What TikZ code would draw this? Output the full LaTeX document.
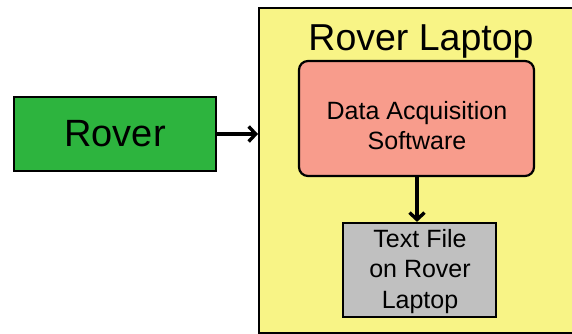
\documentclass[tikz,border=0pt]{standalone}
\usepackage{fontspec}
\setmainfont{Liberation Sans}
\usetikzlibrary{arrows.meta}
\definecolor{laptopyellow}{RGB}{248,244,134}
\definecolor{rovergreen}{RGB}{45,180,62}
\definecolor{softred}{RGB}{248,156,140}
\definecolor{filegrey}{RGB}{192,192,192}
\tikzset{
  box/.style={draw=black, line width=2.2pt, inner sep=0pt},
  flow/.style={line width=3.4pt, -{Straight Barb[length=7pt, width=15pt, line width=3.4pt]}},
}
\begin{document}
\begin{tikzpicture}[x=1pt, y=-1pt]
\useasboundingbox (0,0) rectangle (572,333);
% laptop container
\node[box, fill=laptopyellow, anchor=north west, minimum width=330pt, minimum height=325pt] (laptop) at (258,7) {};
\node[anchor=base, font=\fontsize{37.5}{44}\selectfont] (title) at (421,50) {Rover Laptop};
% rover
\node[box, fill=rovergreen, minimum width=202pt, minimum height=74pt, font=\fontsize{38}{44}\selectfont] (rover) at (115,134) {Rover};
% software
\node[box, fill=softred, rounded corners=9pt, minimum width=235pt, minimum height=115pt] (daq) at (416.5,118.5) {};
\node[align=center, font=\fontsize{25}{30}\selectfont] (daqtext) at (417,125.3) {Data Acquisition\\Software};
% text file
\node[box, fill=filegrey, minimum width=153pt, minimum height=94pt] (file) at (419.5,270) {};
\node[align=center, font=\fontsize{25}{30.5}\selectfont] (filetext) at (420,271.5) {Text File\\on Rover\\Laptop};
% connectors
\coordinate (laptopin) at (laptop.west |- rover.east);
\draw[flow] (rover.east) -- (laptopin);
\draw[flow] (daq.south -| 417,0) -- (file.north -| 417,0);
\end{tikzpicture}
\end{document}
